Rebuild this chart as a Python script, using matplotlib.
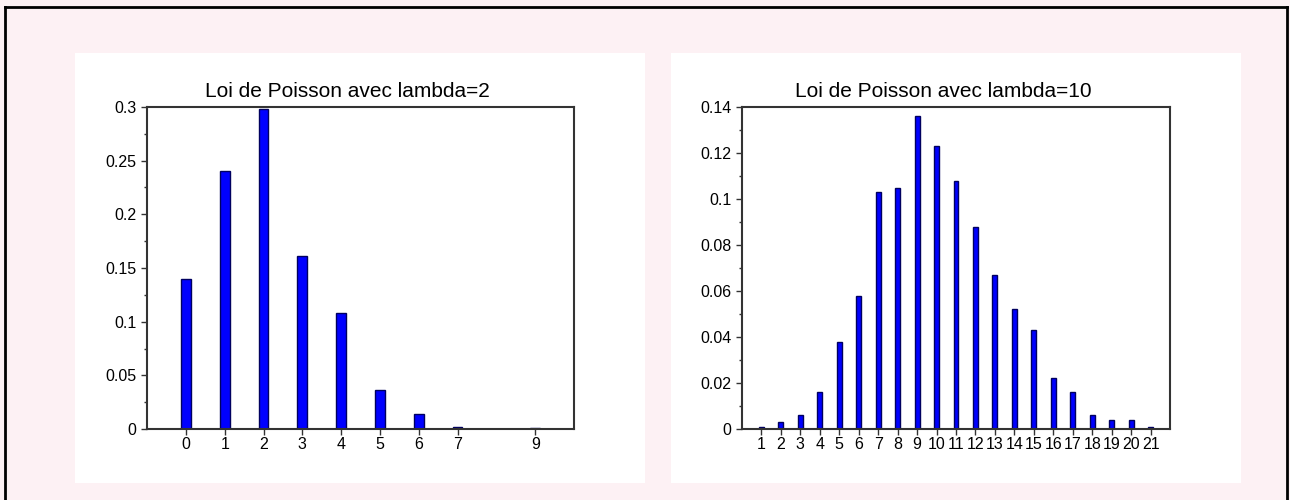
import numpy as np
import matplotlib.pyplot as plt
from matplotlib.patches import Rectangle
from matplotlib.lines import Line2D
from matplotlib.ticker import MultipleLocator

plt.rcParams['font.family'] = ['Liberation Sans', 'DejaVu Sans']

# simulated frequencies, lambda=2
k2 = [0, 1, 2, 3, 4, 5, 6, 7, 9]
p2 = [0.140, 0.240, 0.298, 0.161, 0.108, 0.036, 0.014, 0.002, 0.001]

# simulated frequencies, lambda=10
k10 = list(range(1, 22))
p10 = [0.001, 0.003, 0.006, 0.016, 0.038, 0.058, 0.103, 0.105, 0.136, 0.123,
       0.108, 0.088, 0.067, 0.052, 0.043, 0.022, 0.016, 0.006, 0.004, 0.004, 0.001]

pink = '#fdf1f4'
fig = plt.figure(figsize=(12.9, 5), dpi=100, facecolor=pink)

# white panels behind each plot
for x0 in [0.0581, 0.5202]:
    fig.patches.append(Rectangle((x0, 0.034), 0.4419, 0.86, transform=fig.transFigure,
                                 facecolor='white', edgecolor='none', zorder=-10))

# outer frame (no bottom edge)
fig.lines.append(Line2D([0.0039, 0.0039], [0, 0.986], transform=fig.transFigure, color='black', lw=2))
fig.lines.append(Line2D([0.9977, 0.9977], [0, 0.986], transform=fig.transFigure, color='black', lw=2))
fig.lines.append(Line2D([0.0039, 0.9977], [0.986, 0.986], transform=fig.transFigure, color='black', lw=2))


def style(ax):
    for s in ax.spines.values():
        s.set_color('#333333')
        s.set_linewidth(1.5)
    ax.tick_params(which='major', direction='out', length=4, width=1, color='#333333',
                   labelsize=11.5, top=False, right=False)
    ax.tick_params(which='minor', direction='out', length=2.5, width=1, color='#333333')
    ax.tick_params(axis='x', which='minor', bottom=False)
    ax.tick_params(axis='x', pad=2)


ax1 = fig.add_axes([0.1140, 0.142, 0.331, 0.644])
ax1.bar(k2, p2, width=0.25, color='#0000ff', edgecolor='#000060', linewidth=1)
ax1.set_xlim(-1, 10)
ax1.set_ylim(0, 0.3)
ax1.set_xticks(k2)
ax1.set_yticks([0, 0.05, 0.1, 0.15, 0.2, 0.25, 0.3])
ax1.set_yticklabels(['0', '0.05', '0.1', '0.15', '0.2', '0.25', '0.3'])
ax1.yaxis.set_minor_locator(MultipleLocator(0.025))
ax1.set_title('Loi de Poisson avec lambda=2', fontsize=15, pad=7, x=0.47)
style(ax1)

ax2 = fig.add_axes([0.5752, 0.142, 0.3318, 0.644])
ax2.bar(k10, p10, width=0.25, color='#0000ff', edgecolor='#000060', linewidth=1)
ax2.set_xlim(0, 22)
ax2.set_ylim(0, 0.14)
ax2.set_xticks(k10)
ax2.set_yticks([0, 0.02, 0.04, 0.06, 0.08, 0.1, 0.12, 0.14])
ax2.set_yticklabels(['0', '0.02', '0.04', '0.06', '0.08', '0.1', '0.12', '0.14'])
ax2.yaxis.set_minor_locator(MultipleLocator(0.01))
ax2.set_title('Loi de Poisson avec lambda=10', fontsize=15, pad=7, x=0.47)
style(ax2)

fig.savefig('out.png', dpi=100, facecolor=pink)
